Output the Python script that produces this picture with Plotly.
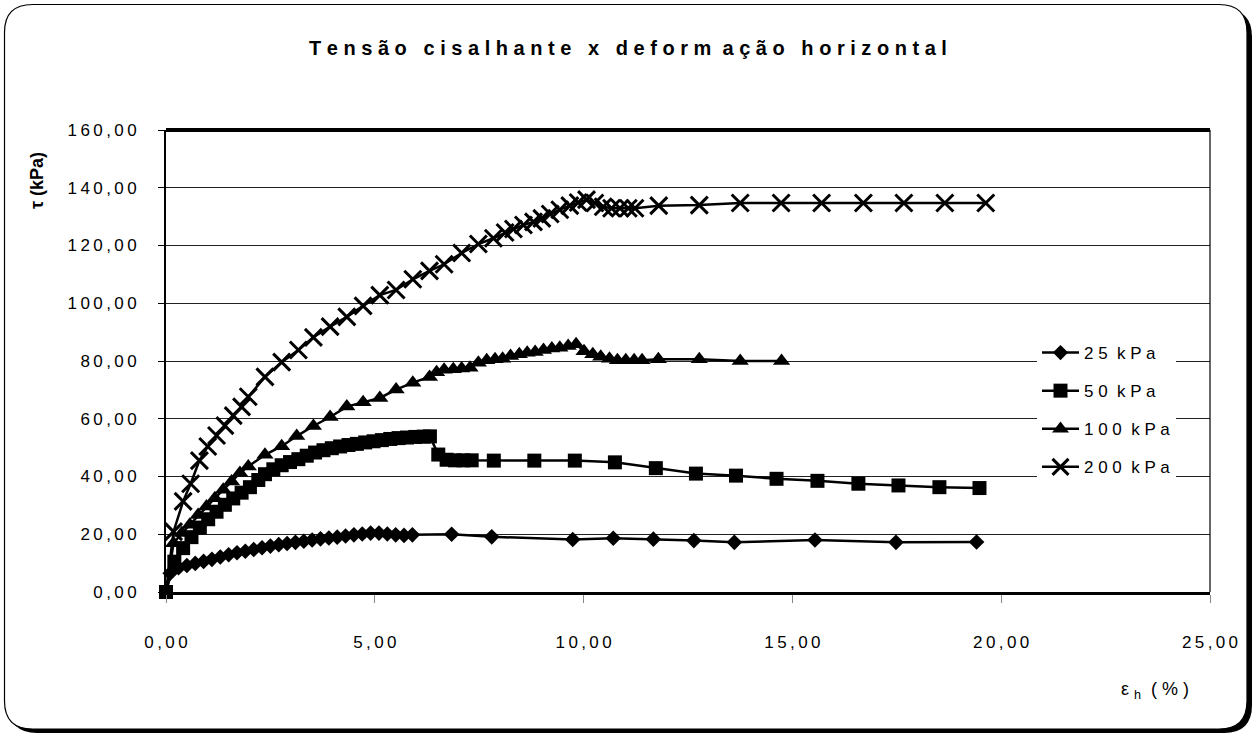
import plotly.graph_objects as go

# Horizontal strain (%) and shear stress (kPa) for each normal stress level
eps_25 = [0, 0.1, 0.3, 0.5, 0.7, 0.9, 1.1, 1.3, 1.5, 1.7, 1.9, 2.1, 2.3, 2.5, 2.7, 2.9,
          3.1, 3.3, 3.5, 3.7, 3.9, 4.1, 4.3, 4.5, 4.7, 4.9, 5.1, 5.3, 5.5, 5.7, 5.9,
          6.84, 7.80, 9.74, 10.71, 11.67, 12.64, 13.61, 15.54, 17.48, 19.41]
tau_25 = [0, 6.5, 8.4, 9.2, 9.9, 10.6, 11.3, 12.1, 12.9, 13.6, 14.1, 14.7, 15.3, 15.9, 16.4, 16.8,
          17.2, 17.6, 18.0, 18.4, 18.7, 19.0, 19.4, 19.8, 20.1, 20.4, 20.4, 20.1, 19.8, 19.6, 19.8,
          20.0, 19.1, 18.2, 18.6, 18.3, 17.8, 17.2, 18.0, 17.2, 17.3]

eps_50 = [0, 0.2, 0.41, 0.61, 0.81, 1.01, 1.21, 1.41, 1.61, 1.81, 2.01, 2.21, 2.37, 2.57, 2.77,
          2.97, 3.17, 3.37, 3.57, 3.77, 3.97, 4.17, 4.37, 4.57, 4.77, 4.97, 5.17, 5.37, 5.57,
          5.77, 5.97, 6.17, 6.32, 6.52, 6.72, 6.92, 7.12, 7.32, 7.85, 8.82, 9.79, 10.75, 11.73,
          12.69, 13.65, 14.62, 15.60, 16.58, 17.54, 18.52, 19.48]
tau_50 = [0, 10.5, 15.2, 19.0, 22.3, 25.2, 27.8, 30.2, 32.4, 34.4, 36.3, 38.8, 40.8, 42.5, 43.9,
          45.0, 46.0, 47.2, 48.3, 49.1, 49.8, 50.4, 50.9, 51.3, 51.8, 52.2, 52.6, 53.0, 53.3,
          53.5, 53.7, 53.8, 53.9, 47.6, 45.8, 45.6, 45.6, 45.6, 45.5, 45.5, 45.5, 44.9, 42.9,
          41.0, 40.3, 39.2, 38.5, 37.5, 36.9, 36.3, 36.0]

eps_100 = [0, 0.18, 0.38, 0.57, 0.77, 0.97, 1.17, 1.37, 1.57, 1.77, 1.97, 2.37, 2.77, 3.13,
           3.53, 3.93, 4.33, 4.72, 5.12, 5.51, 5.91, 6.31, 6.48, 6.66, 6.88, 7.08, 7.28, 7.48,
           7.68, 7.88, 8.06, 8.25, 8.46, 8.65, 8.84, 9.04, 9.24, 9.43, 9.63, 9.82, 10.01, 10.22,
           10.41, 10.62, 10.81, 11.01, 11.21, 11.40, 11.79, 12.77, 13.75, 14.74]
tau_100 = [0, 16.9, 20.4, 23.3, 26.7, 29.6, 32.5, 35.4, 38.3, 41.2, 43.5, 47.5, 50.5, 54.0,
           57.5, 60.6, 64.2, 65.7, 67.2, 70.1, 72.5, 74.5, 76.1, 77.0, 77.1, 77.4, 77.7, 79.4,
           80.3, 80.6, 80.8, 81.7, 82.3, 82.9, 83.1, 83.8, 84.3, 84.6, 85.2, 85.8, 83.4, 82.3,
           81.5, 80.8, 80.3, 80.3, 80.3, 80.3, 80.6, 80.6, 80.0, 80.0]

eps_200 = [0, 0.18, 0.41, 0.59, 0.80, 1.00, 1.21, 1.41, 1.61, 1.81, 1.97, 2.37, 2.77, 3.17,
           3.53, 3.93, 4.33, 4.72, 5.12, 5.51, 5.91, 6.31, 6.66, 7.08, 7.48, 7.84, 8.12, 8.32,
           8.56, 8.80, 9.00, 9.20, 9.43, 9.67, 9.87, 10.07, 10.27, 10.47, 10.67, 10.87, 11.07,
           11.23, 11.80, 12.77, 13.75, 14.73, 15.70, 16.70, 17.67, 18.65, 19.63]
tau_200 = [0, 20.9, 31.4, 37.5, 45.5, 50.4, 54.2, 57.6, 61.1, 64.1, 67.6, 74.5, 79.6, 83.8,
           88.2, 91.9, 95.3, 99.1, 102.8, 104.6, 108.3, 111.2, 113.5, 117.4, 120.5, 122.5, 124.5,
           125.7, 127.1, 128.2, 129.4, 130.9, 132.4, 133.8, 134.9, 135.9, 134.7, 133.4, 132.9,
           132.9, 132.9, 132.9, 133.8, 134.0, 134.7, 134.7, 134.7, 134.7, 134.7, 134.7, 134.7]

series_names = ["2 5  k P a", "5 0  k P a", "1 0 0  k P a", "2 0 0  k P a"]
x_ticks = [0, 5, 10, 15, 20, 25]
y_ticks = [0, 20, 40, 60, 80, 100, 120, 140, 160]

FONT = "Liberation Sans Narrow, Arial Narrow, Liberation Sans, Arial, sans-serif"
W, H = 1257, 734
ML, MR, MT, MB = 166, 47, 130, 142


def spaced(v):
    """Format a number as '160,00' with thin letter spacing."""
    s = f"{v:.2f}".replace(".", ",")
    return "\u2009".join(s)


def to_paper(px, py):
    pw = W - ML - MR
    ph = H - MT - MB
    return (px - ML) / pw, (H - MB - py) / ph


def rounded_rect(x0, y0, x1, y1, r):
    pts = [("M", [(x0 + r, y0)]), ("L", [(x1 - r, y0)]), ("Q", [(x1, y0), (x1, y0 + r)]),
           ("L", [(x1, y1 - r)]), ("Q", [(x1, y1), (x1 - r, y1)]), ("L", [(x0 + r, y1)]),
           ("Q", [(x0, y1), (x0, y1 - r)]), ("L", [(x0, y0 + r)]), ("Q", [(x0, y0), (x0 + r, y0)])]
    out = []
    for cmd, ps in pts:
        coords = " ".join(f"{to_paper(a, b)[0]:.5f},{to_paper(a, b)[1]:.5f}" for a, b in ps)
        out.append(f"{cmd}{coords}")
    return " ".join(out) + " Z"


def sizes(n, s):
    # the shared origin point only shows the square marker
    return [0] + [s] * (n - 1)


fig = go.Figure()

line = dict(color="black", width=2.5)
fig.add_trace(go.Scatter(x=eps_25, y=tau_25, name=series_names[0], mode="lines+markers",
                         line=line, legendgroup="a",
                         marker=dict(symbol="diamond", size=sizes(len(eps_25), 12), opacity=1,
                                     color="black", line=dict(width=0))))
fig.add_trace(go.Scatter(x=eps_50, y=tau_50, name=series_names[1], mode="lines+markers",
                         line=line, legendgroup="b",
                         marker=dict(symbol="square", size=14, color="black", opacity=1,
                                     line=dict(width=0))))
fig.add_trace(go.Scatter(x=eps_100, y=tau_100, name=series_names[2], mode="lines+markers",
                         line=line, legendgroup="c",
                         marker=dict(symbol="triangle-up", size=sizes(len(eps_100), 15), opacity=1,
                                     color="black", line=dict(width=0))))
fig.add_trace(go.Scatter(x=eps_200, y=tau_200, name=series_names[3], mode="lines+markers",
                         line=line, legendgroup="d",
                         marker=dict(symbol="x-thin", size=sizes(len(eps_200), 17), opacity=1,
                                     color="black", line=dict(width=3, color="black"))))
fig.update_traces(cliponaxis=False)

# outer card with drop shadow
shapes = [
    dict(type="path", xref="paper", yref="paper", layer="below",
         path=rounded_rect(9, 9, 1252, 733, 28), fillcolor="black", line=dict(width=0)),
    dict(type="path", xref="paper", yref="paper", layer="below",
         path=rounded_rect(4.5, 4.5, 1247, 729, 28), fillcolor="white",
         line=dict(color="black", width=1.2)),
    # heavy top edge and thin right edge of the plot frame
    dict(type="line", xref="paper", yref="paper", x0=0, x1=1, y0=1, y1=1,
         line=dict(color="black", width=4)),
    dict(type="line", xref="paper", yref="paper", x0=1, x1=1, y0=0, y1=1,
         line=dict(color="black", width=1.2)),
]

tx, ty = to_paper(628, 48)
yx, yy = to_paper(37, 181)
xx, xy = to_paper(1155, 690)
annotations = [
    dict(text="<b>T e n s ã o   c i s a l h a n t e   x   d e f o r m  a ç ã o   h o r i z o n t a l</b>",
         x=tx, y=ty, xref="paper", yref="paper", showarrow=False, xanchor="center", yanchor="middle",
         font=dict(family=FONT, size=20, color="black")),
    dict(text="<b>τ (kPa)</b>", x=yx, y=yy, xref="paper", yref="paper", showarrow=False,
         textangle=-90, xanchor="center", yanchor="middle",
         font=dict(family="Liberation Sans, Arial, sans-serif", size=18, color="black")),
    dict(text="ε <sub>h</sub>  ( % )", x=xx, y=xy, xref="paper", yref="paper", showarrow=False,
         xanchor="center", yanchor="middle",
         font=dict(family=FONT, size=18, color="black")),
]

lx, ly = to_paper(1037, 335)
fig.update_layout(
    width=W, height=H, autosize=False,
    margin=dict(l=ML, r=MR, t=MT, b=MB, pad=0),
    paper_bgcolor="white", plot_bgcolor="white",
    shapes=shapes, annotations=annotations,
    showlegend=True,
    legend=dict(x=lx, y=ly, xanchor="left", yanchor="top", bgcolor="white",
                borderwidth=0, tracegroupgap=13, itemwidth=37,
                font=dict(family=FONT, size=17, color="black")),
    xaxis=dict(range=[0, 25], tickmode="array", tickvals=x_ticks,
               ticktext=[spaced(v) for v in x_ticks],
               showgrid=False, zeroline=False, showline=True, linecolor="black", linewidth=3,
               ticks="outside", ticklen=8, tickcolor="#888", tickwidth=1,
               ticklabelstandoff=25,
               tickfont=dict(family=FONT, size=17, color="black")),
    yaxis=dict(range=[0, 160], tickmode="array", tickvals=y_ticks,
               ticktext=[spaced(v) for v in y_ticks],
               showgrid=True, gridcolor="#222", gridwidth=1, zeroline=False,
               showline=True, linecolor="black", linewidth=2,
               ticks="outside", ticklen=6, tickcolor="black", tickwidth=1,
               ticklabelstandoff=18,
               tickfont=dict(family=FONT, size=17, color="black")),
)

fig.write_html("out.html")
